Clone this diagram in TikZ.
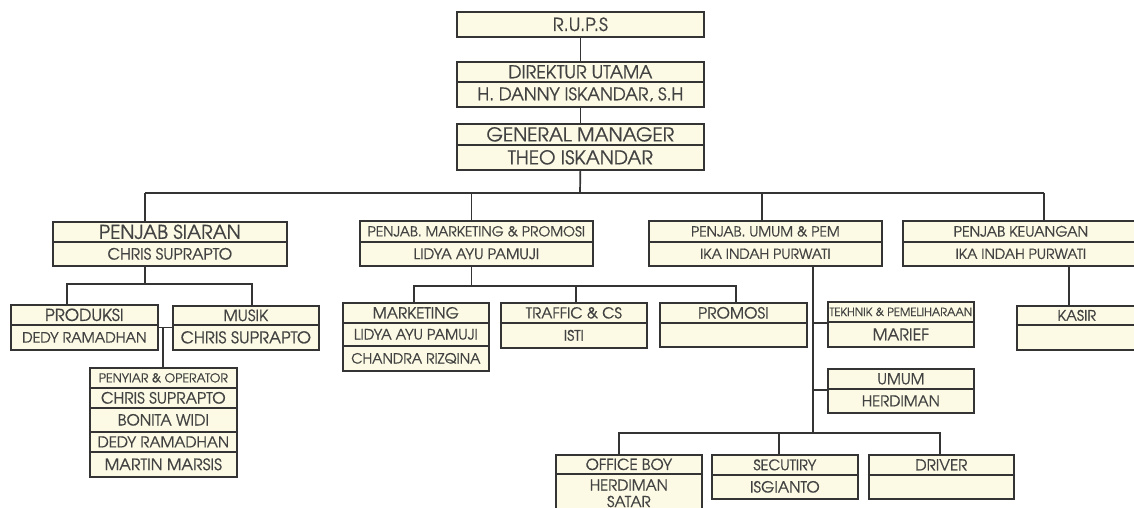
\documentclass[tikz,border=0pt]{standalone}
\usepackage{fontspec}
\setmainfont{TeX Gyre Adventor}[FakeBold=0.7]
\definecolor{cellfill}{RGB}{252,250,228}
\definecolor{linec}{RGB}{52,52,52}
\definecolor{textc}{RGB}{66,66,66}
\tikzset{
  cell/.style={draw=linec, fill=cellfill, line width=1.7pt, inner sep=0pt,
    anchor=north west, text=textc, align=center},
  link/.style={draw=linec, line width=1.7pt}
}
% \cell{name}{x1}{y1}{x2}{y2}{font size}{text}
\newcommand\cell[7]{%
  \node[cell, minimum width=#4-#2, minimum height=#5-#3,
    font={\fontsize{#6}{#6}\selectfont}] (#1) at (#2,#3) {#7};}
\begin{document}
\begin{tikzpicture}[x=1pt, y=-1pt]
\useasboundingbox (0,0) rectangle (1134,508);
\clip (0,0) rectangle (1134,508);
\fill[white] (0,0) rectangle (1134,508);

% top of the chart
\cell{rups}{456}{11}{703}{36}{18}{R.U.P.S}
\cell{dir1}{456}{61}{703}{81}{17.7}{DIREKTUR UTAMA}
\cell{dir2}{456}{81}{703}{106}{17.3}{H. DANNY ISKANDAR, S.H}
\cell{gm1}{456}{123}{703}{144}{19}{GENERAL MANAGER}
\cell{gm2}{456}{144}{703}{169}{19}{THEO ISKANDAR}

% department heads
\cell{sia1}{52}{221}{286}{241}{19}{PENJAB SIARAN}
\cell{sia2}{52}{241}{286}{265}{15.5}{CHRIS SUPRAPTO}
\cell{mkt1}{359}{220}{592}{241}{13.8}{PENJAB. MARKETING \& PROMOSI}
\cell{mkt2}{359}{241}{592}{265}{14.5}{LIDYA AYU PAMUJI}
\cell{ump1}{648}{220}{881}{241}{13.9}{PENJAB. UMUM \& PEM}
\cell{ump2}{648}{241}{881}{265}{14}{IKA INDAH PURWATI}
\cell{keu1}{902}{220}{1138}{241}{14.2}{PENJAB KEUANGAN}
\cell{keu2}{902}{241}{1138}{265}{14}{IKA INDAH PURWATI}

% broadcasting
\cell{pro1}{10}{304}{157}{324}{16.5}{PRODUKSI}
\cell{pro2}{10}{324}{157}{349}{14.2}{DEDY RAMADHAN}
\cell{mus1}{172}{305}{318}{324}{15.5}{MUSIK}
\cell{mus2}{172}{324}{318}{349}{16.2}{CHRIS SUPRAPTO}
\cell{pen1}{89}{367}{236}{387}{12.3}{PENYIAR \& OPERATOR}
\cell{pen2}{89}{387}{236}{407}{15.5}{CHRIS SUPRAPTO}
\cell{pen3}{89}{407}{236}{431}{15.3}{BONITA WIDI}
\cell{pen4}{89}{431}{236}{451}{15}{DEDY RAMADHAN}
\cell{pen5}{89}{451}{236}{476}{15.8}{MARTIN MARSIS}

% marketing
\cell{mar1}{342}{302}{488}{322}{15.2}{MARKETING}
\cell{mar2}{342}{322}{488}{345}{14.3}{LIDYA AYU PAMUJI}
\cell{mar3}{342}{345}{488}{370}{14}{CHANDRA RIZQINA}
\cell{tra1}{500}{302}{646}{322}{15}{TRAFFIC \& CS}
\cell{tra2}{500}{322}{646}{347}{14.5}{ISTI}
\cell{prm1}{659}{302}{806}{322}{15.4}{PROMOSI}
\cell{prm2}{659}{322}{806}{346}{14}{}

% general affairs
\cell{tek1}{827}{301}{973}{321}{11.3}{TEKHNIK \& PEMELIHARAAN}
\cell{tek2}{827}{321}{973}{346}{16}{MARIEF}
\cell{umu1}{827}{368}{973}{388}{15}{UMUM}
\cell{umu2}{827}{388}{973}{412}{15}{HERDIMAN}
\cell{ob1}{555}{454}{701}{473}{15.2}{OFFICE BOY}
\cell{ob2}{555}{473}{701}{512}{15}{HERDIMAN\\[1.5pt]SATAR}
\cell{sec1}{711}{454}{857}{474}{14.5}{SECUTIRY}
\cell{sec2}{711}{474}{857}{498}{15.3}{ISGIANTO}
\cell{drv1}{868}{454}{1013}{474}{15.2}{DRIVER}
\cell{drv2}{868}{474}{1013}{498}{15}{}

% finance
\cell{kas1}{1016}{305}{1136}{324}{14.5}{KASIR}
\cell{kas2}{1016}{324}{1136}{349}{14.5}{}

% junction points
\coordinate (bus)  at (580,193);
\coordinate (busS) at (145,193);
\coordinate (busM) at (471.5,193);
\coordinate (busU) at (762,193);
\coordinate (busK) at (1044,193);
\coordinate (siaJ) at (145,284);
\coordinate (mkJ)  at (471.5,286);
\coordinate (prJ)  at (163,327.5);
\coordinate (umJ)  at (813,433);

% connectors
\draw[link] (rups.south) -- (dir1.north);
\draw[link] (dir2.south) -- (gm1.north);
\draw[link] (gm2.south) -- (bus);
\draw[link] (busS) -- (busK);
\draw[link] (busS) -- (busS |- sia1.north);
\draw[link] (busM) -- (busM |- mkt1.north);
\draw[link] (busU) -- (busU |- ump1.north);
\draw[link] (busK) -- (busK |- keu1.north);

\draw[link] (siaJ |- sia2.south) -- (siaJ);
\draw[link] (pro1.north -| 67,0) |- (siaJ) -| (mus1.north -| 252,0);
\draw[link] (pro2.east |- prJ) -- (mus2.west |- prJ);
\draw[link] (prJ) -- (prJ |- pen1.north);

\draw[link] (mkJ |- mkt2.south) -- (mkJ);
\draw[link] (mar1.north -| 414,0) |- (mkJ) -| (prm1.north -| 736,0);
\draw[link] (tra1.north -| 576,0) -- (576,286);

\draw[link] (umJ |- ump2.south) -- (umJ);
\draw[link] (umJ |- tek1.south) -- (tek1.south west);
\draw[link] (umJ |- umu1.south) -- (umu1.south west);
\draw[link] (ob1.north -| 619,0) |- (umJ) -| (drv1.north -| 940,0);
\draw[link] (sec1.north -| 779,0) -- (779,433);

\draw[link] (keu2.south -| 1069,0) -- (kas1.north -| 1069,0);
\end{tikzpicture}
\end{document}
